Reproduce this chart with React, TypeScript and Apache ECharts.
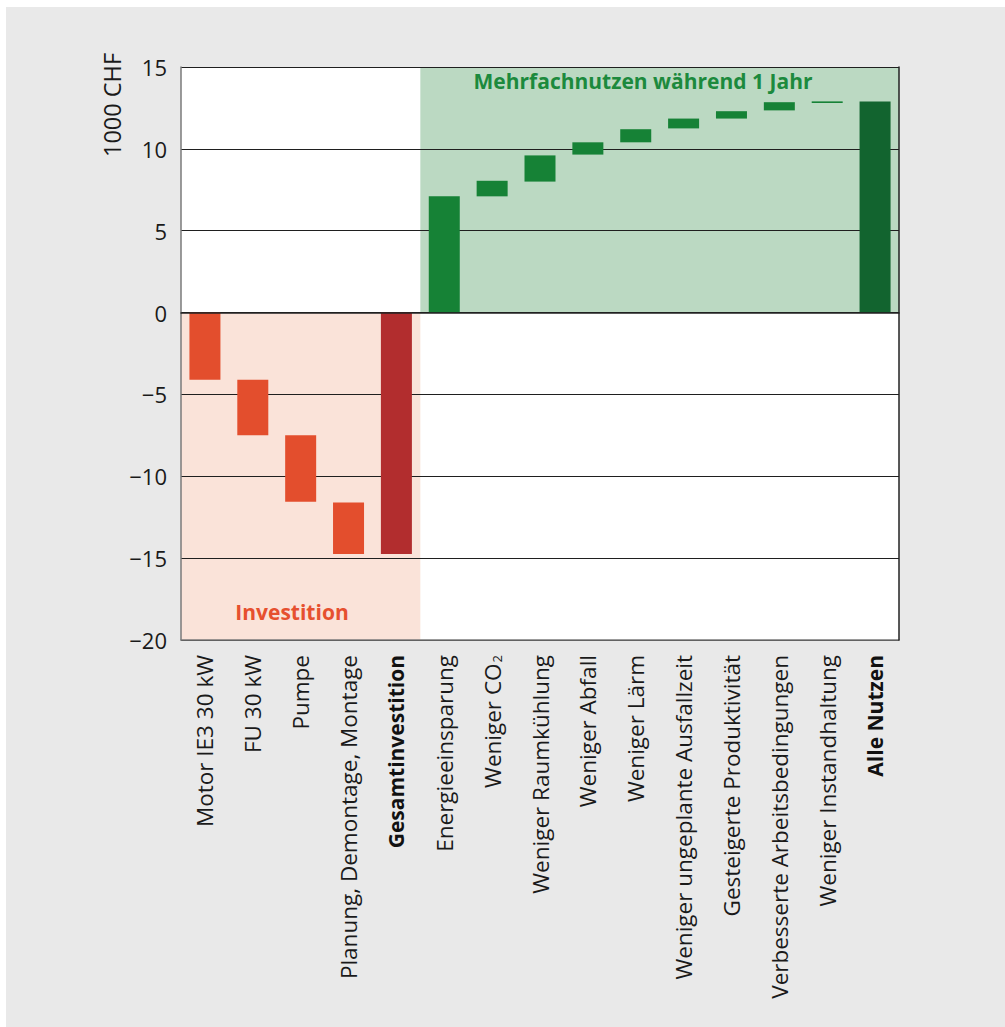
import React, { useEffect, useRef } from "react";
import * as echarts from "echarts";

const categories = [
  "Motor IE3 30 kW",
  "FU 30 kW",
  "Pumpe",
  "Planung, Demontage, Montage",
  "Gesamtinvestition",
  "Energieeinsparung",
  "Weniger CO2",
  "Weniger Raumkühlung",
  "Weniger Abfall",
  "Weniger Lärm",
  "Weniger ungeplante Ausfallzeit",
  "Gesteigerte Produktivität",
  "Verbesserte Arbeitsbedingungen",
  "Weniger Instandhaltung",
  "Alle Nutzen",
];

// bar bottoms and tops in 1000 CHF
const lows = [-4.1, -7.5, -11.55, -14.75, -14.75, 0, 7.1, 8.0, 9.65, 10.4, 11.25, 11.85, 12.35, 12.8, 0];
const highs = [0, -4.1, -7.5, -11.6, 0, 7.1, 8.05, 9.6, 10.4, 11.2, 11.85, 12.3, 12.85, 12.9, 12.9];
const kinds = ["inv", "inv", "inv", "inv", "invTotal", "ben", "ben", "ben", "ben", "ben", "ben", "ben", "ben", "ben", "benTotal"];
const boldCategories = ["Gesamtinvestition", "Alle Nutzen"];

const yTicks = { min: -20, max: 15, interval: 5 };
const yAxisName = "1000 CHF";
const benefitLabel = "Mehrfachnutzen während 1 Jahr";
const investLabel = "Investition";

const COLORS: Record<string, string> = {
  inv: "#E34E2D",
  invTotal: "#B22D2E",
  ben: "#168236",
  benTotal: "#12642F",
};

const FONT = "Open Sans";
const XFS = 22.5;
const XFS_BOLD = 21;

export default function App() {
  const ref = useRef<HTMLDivElement>(null);
  useEffect(() => {
    document.body.style.margin = "0";
    if (!ref.current) return;
    const chart = echarts.init(ref.current, null, { renderer: "svg" });

    const base = lows.map((lo, i) => (highs[i] <= 0 ? highs[i] : lo));
    const lens = lows.map((lo, i) =>
      highs[i] <= 0
        ? { value: +(lo - highs[i]).toFixed(3), itemStyle: { color: COLORS[kinds[i]] } }
        : { value: +(highs[i] - lo).toFixed(3), itemStyle: { color: COLORS[kinds[i]] } }
    );

    const option: any = {
      animation: false,
      backgroundColor: "#E9E9E9",
      textStyle: { fontFamily: FONT },
      grid: {
        left: 175,
        right: 106,
        top: 60,
        bottom: 387,
        show: true,
        backgroundColor: "#ffffff",
        borderWidth: 0,
        z: 0,
      },
      xAxis: [
        {
          type: "category",
          data: categories,
          position: "bottom",
          z: 2,
          axisLine: { show: true, onZero: false, lineStyle: { color: "#7a7a7a", width: 1.5 } },
          axisTick: { show: false },
          splitLine: { show: false },
          axisLabel: {
            rotate: 90,
            margin: 15,
            interval: 0,
            fontSize: XFS,
            color: "#1a1a1a",
            fontFamily: FONT,
            formatter: (v: string) => {
              if (boldCategories.includes(v)) return "{b|" + v + "}";
              if (v.endsWith("CO2")) return "{n|" + v.slice(0, -1) + "}{s|2}";
              return "{n|" + v + "}";
            },
            rich: {
              n: { fontSize: XFS, color: "#1a1a1a", fontFamily: FONT },
              b: { fontSize: XFS_BOLD, color: "#111", fontWeight: "bold", fontFamily: FONT },
              s: { fontSize: 13, color: "#1a1a1a", fontFamily: FONT, verticalAlign: "bottom", padding: [0, 0, 0, 1] },
            },
          },
        },
        {
          type: "category",
          data: categories,
          position: "top",
          z: 4,
          axisLine: { show: true, lineStyle: { color: "#222", width: 1.5 } },
          axisTick: { show: false },
          axisLabel: { show: false },
          splitLine: { show: false },
        },
      ],
      yAxis: [
        {
          type: "value",
          min: yTicks.min,
          max: yTicks.max,
          interval: yTicks.interval,
          z: 2,
          axisLine: { show: true, lineStyle: { color: "#7a7a7a", width: 1.5 } },
          axisTick: { show: false },
          splitLine: { show: true, lineStyle: { color: "#1f1f1f", width: 1.2 } },
          axisLabel: {
            margin: 14,
            fontSize: 22,
            color: "#1a1a1a",
            fontFamily: FONT,
            formatter: (v: number) => String(v).replace("-", "\u2212"),
          },
        },
        {
          type: "value",
          min: yTicks.min,
          max: yTicks.max,
          interval: yTicks.interval,
          position: "right",
          z: 4,
          axisLine: { show: true, lineStyle: { color: "#222", width: 1.5 } },
          axisTick: { show: false },
          axisLabel: { show: false },
          splitLine: { show: false },
        },
      ],
      series: [
        {
          type: "bar",
          stack: "w",
          z: 3,
          barWidth: 31,
          silent: true,
          itemStyle: { color: "transparent" },
          data: base,
          markArea: {
            silent: true,
            z: 1,
            data: [
              [
                { xAxis: categories[0], yAxis: yTicks.min, itemStyle: { color: "#FAE3D9" } },
                { xAxis: categories[4], yAxis: 0 },
              ],
              [
                { xAxis: categories[5], yAxis: 0, itemStyle: { color: "#BBD9C2" } },
                { xAxis: categories[14], yAxis: yTicks.max },
              ],
            ],
          },
        },
        {
          type: "bar",
          stack: "w",
          z: 3,
          barWidth: 31,
          data: lens,
        },
      ],
      graphic: [
        {
          type: "text",
          x: 106,
          y: 98,
          rotation: Math.PI / 2,
          style: {
            text: yAxisName,
            fontSize: 23.5,
            fontFamily: FONT,
            fill: "#1a1a1a",
            align: "center",
            verticalAlign: "middle",
          },
        },
        {
          type: "text",
          x: 637,
          y: 74,
          z: 10,
          style: {
            text: benefitLabel,
            fontSize: 21,
            fontWeight: "bold",
            fontFamily: FONT,
            fill: "#1C8A3D",
            align: "center",
            verticalAlign: "middle",
          },
        },
        {
          type: "text",
          x: 286,
          y: 605,
          z: 10,
          style: {
            text: investLabel,
            fontSize: 21,
            fontWeight: "bold",
            fontFamily: FONT,
            fill: "#E6502F",
            align: "center",
            verticalAlign: "middle",
          },
        },
      ],
    };
    chart.setOption(option);
    return () => chart.dispose();
  }, []);
  return (
    <div
      ref={ref}
      style={{ width: 999, height: 1020, marginLeft: 6, marginTop: 7 }}
    />
  );
}
